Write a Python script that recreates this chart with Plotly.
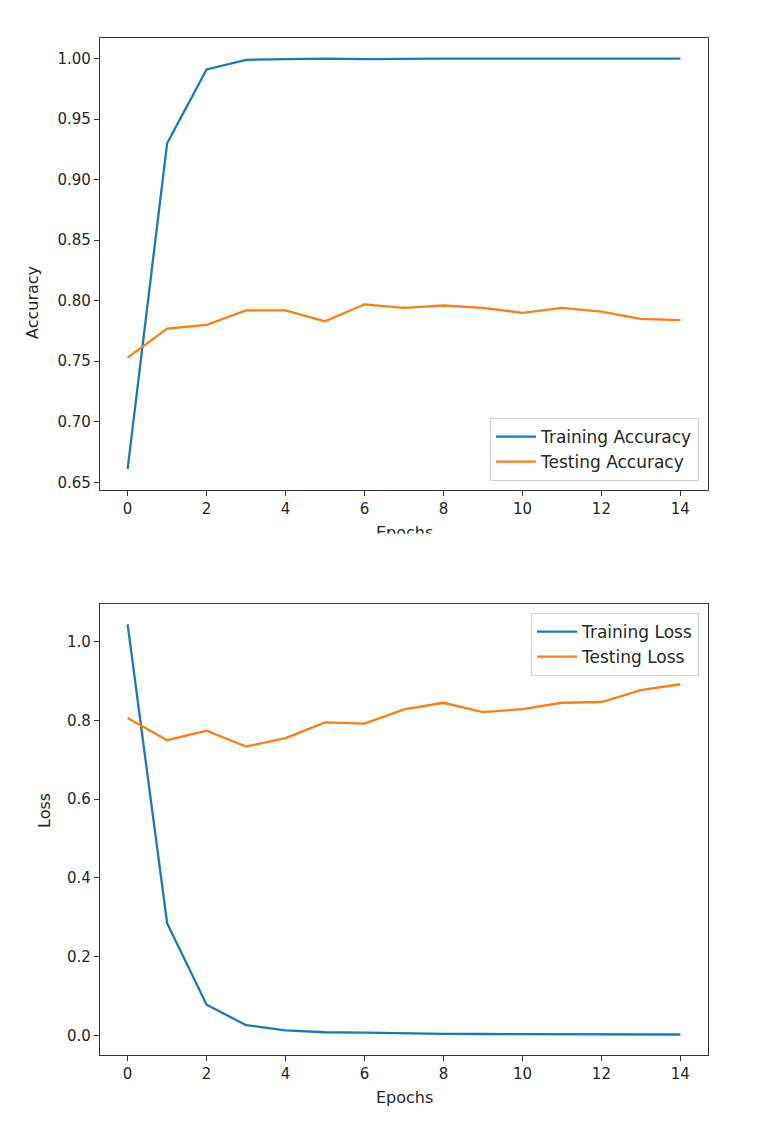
import plotly.graph_objects as go

epochs = list(range(15))
train_acc = [0.661, 0.930, 0.991, 0.999, 0.9995, 1.0, 0.9995, 1.0, 1.0, 1.0, 1.0, 1.0, 1.0, 1.0, 1.0]
test_acc = [0.753, 0.777, 0.780, 0.792, 0.792, 0.783, 0.797, 0.794, 0.796, 0.794, 0.790, 0.794, 0.791, 0.785, 0.784]
train_loss = [1.044, 0.285, 0.078, 0.026, 0.013, 0.008, 0.007, 0.005, 0.004, 0.0035, 0.003, 0.0028, 0.0025, 0.0024, 0.0023]
test_loss = [0.806, 0.750, 0.774, 0.734, 0.755, 0.795, 0.792, 0.828, 0.845, 0.821, 0.829, 0.845, 0.847, 0.877, 0.892]

acc_ticks = [0.65, 0.70, 0.75, 0.80, 0.85, 0.90, 0.95, 1.00]
loss_ticks = [0.0, 0.2, 0.4, 0.6, 0.8, 1.0]
epoch_ticks = [0, 2, 4, 6, 8, 10, 12, 14]

BLUE = "#1f77b4"
ORANGE = "#ff7f0e"
FONT = "DejaVu Sans"
TXT = "#262626"
OFF = 8  # page body margin
W, H = 758 - OFF, 1128 - OFF

def px_x(px):
    return (px - OFF) / W

def py(px):
    return 1 - (px - OFF) / H

fig = go.Figure()
fig.add_trace(go.Scatter(x=epochs, y=train_acc, mode="lines", name="Training Accuracy",
                         line=dict(color=BLUE, width=2.3), xaxis="x", yaxis="y", legend="legend"))
fig.add_trace(go.Scatter(x=epochs, y=test_acc, mode="lines", name="Testing Accuracy",
                         line=dict(color=ORANGE, width=2.3), xaxis="x", yaxis="y", legend="legend"))
fig.add_trace(go.Scatter(x=epochs, y=train_loss, mode="lines", name="Training Loss",
                         line=dict(color=BLUE, width=2.3), xaxis="x2", yaxis="y2", legend="legend2"))
fig.add_trace(go.Scatter(x=epochs, y=test_loss, mode="lines", name="Testing Loss",
                         line=dict(color=ORANGE, width=2.3), xaxis="x2", yaxis="y2", legend="legend2"))

xdom = [px_x(100), px_x(708)]
axis_common = dict(showgrid=False, zeroline=False, showline=True, mirror=True,
                   linecolor="#333333", linewidth=1.2, ticks="outside", ticklen=5,
                   tickcolor="#333333", tickwidth=1.2, automargin=False,
                   tickfont=dict(family=FONT, size=15, color=TXT))

legend_common = dict(bgcolor="rgba(255,255,255,0.8)", bordercolor="#d0d0d0", borderwidth=1,
                     font=dict(family=FONT, size=17, color=TXT), xanchor="right",
                     tracegroupgap=0, itemwidth=40)

fig.update_layout(
    width=W, height=H,
    margin=dict(l=0, r=0, t=0, b=0),
    paper_bgcolor="white", plot_bgcolor="white",
    showlegend=True,
    xaxis=dict(domain=xdom, anchor="y", range=[-0.7, 14.7], tickvals=epoch_ticks, **axis_common),
    yaxis=dict(domain=[py(490), py(38)], anchor="x", range=[0.6436, 1.0170],
               tickvals=acc_ticks, tickformat=".2f", **axis_common),
    xaxis2=dict(domain=xdom, anchor="y2", range=[-0.7, 14.7], tickvals=epoch_ticks, **axis_common),
    yaxis2=dict(domain=[py(1055), py(604)], anchor="x2", range=[-0.0498, 1.0959],
                tickvals=loss_ticks, tickformat=".1f", **axis_common),
    legend=dict(x=px_x(699), y=py(481), yanchor="bottom", **legend_common),
    legend2=dict(x=px_x(699), y=py(613), yanchor="top", **legend_common),
    annotations=[
        dict(text="Accuracy", x=px_x(21), y=py(264), xref="paper", yref="paper", textangle=-90,
             showarrow=False, font=dict(family=FONT, size=16, color=TXT)),
        dict(text="Loss", x=px_x(33), y=py(830), xref="paper", yref="paper", textangle=-90,
             showarrow=False, font=dict(family=FONT, size=16, color=TXT)),
        dict(text="Epochs", x=px_x(404), y=py(1109), xref="paper", yref="paper",
             showarrow=False, font=dict(family=FONT, size=16, color=TXT)),
        dict(text="Epochs", x=px_x(404), y=py(532.7), xref="paper", yref="paper",
             showarrow=False, font=dict(family=FONT, size=16, color=TXT)),
        # the reference crops the top panel just through its x-axis title
        dict(text=" ", x=px_x(404), y=py(533.5), xref="paper", yref="paper", yanchor="top",
             showarrow=False, width=140, height=24, bgcolor="white", borderpad=0,
             font=dict(family=FONT, size=15, color=TXT)),
    ],
)

fig.write_html("out.html")
